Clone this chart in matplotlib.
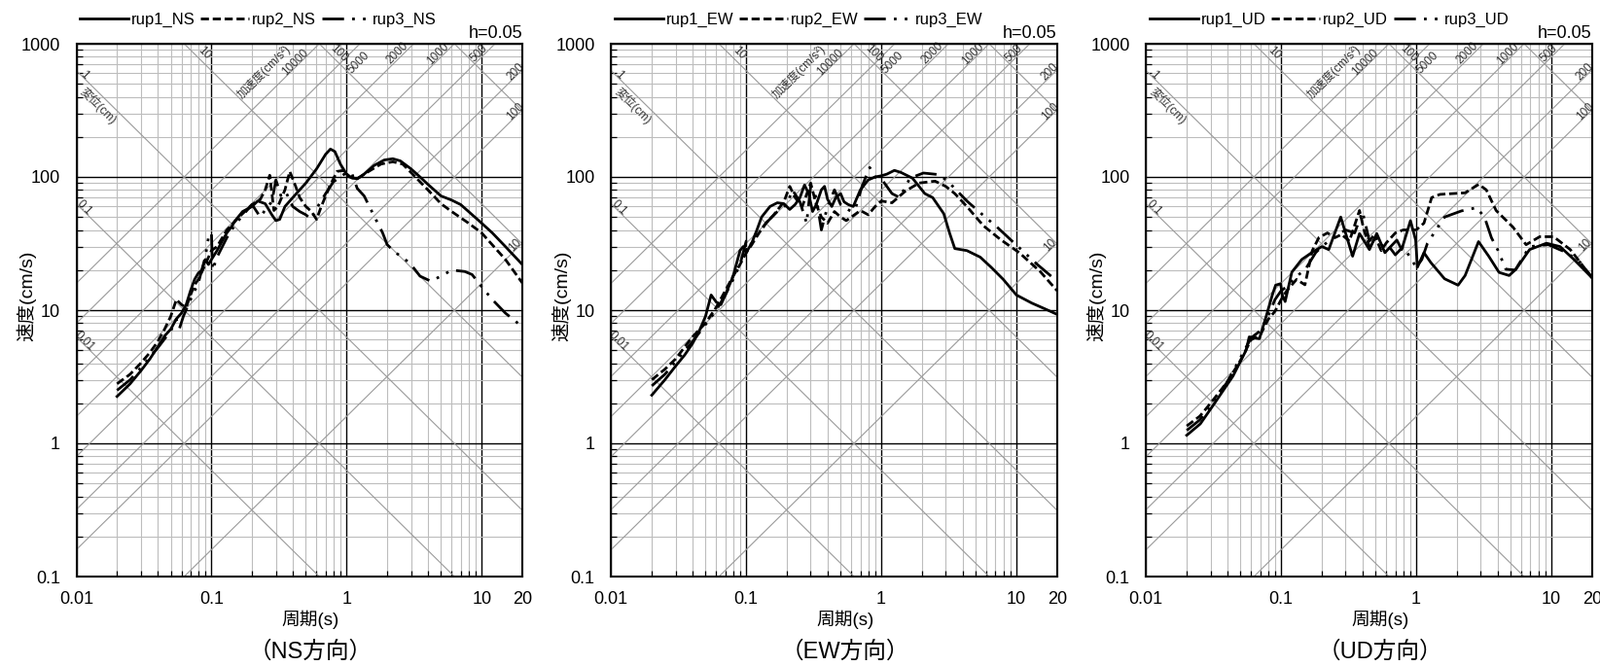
"""Tripartite response spectra (h=0.05) for rup1..rup3, NS / EW / UD."""

import numpy as np
import matplotlib

matplotlib.use("Agg")
import matplotlib.pyplot as plt
from matplotlib.ticker import LogLocator, NullFormatter

plt.rcParams["font.family"] = ["Liberation Sans", "Noto Sans CJK JP", "DejaVu Sans"]

# ---- data: period (s) and pseudo velocity (cm/s) ----
ns_rup1_t = [0.02, 0.025, 0.03, 0.035, 0.04, 0.045, 0.05, 0.055, 0.06, 0.065, 0.07, 0.075,
             0.08, 0.085, 0.09, 0.095, 0.1, 0.11, 0.12, 0.13, 0.14, 0.15, 0.17, 0.2, 0.22,
             0.25, 0.28, 0.3, 0.32, 0.35, 0.4, 0.45, 0.5, 0.6, 0.7, 0.76, 0.82, 0.9, 1.0,
             1.1, 1.2, 1.35, 1.6, 1.9, 2.2, 2.5, 3.0, 3.5, 4.0, 5.0, 6.0, 7.0, 8.0, 10, 12,
             15, 20]
ns_rup1_v = [2.25, 2.8, 3.5, 4.3, 5.3, 6.4, 7.2, 8.6, 9.5, 11, 14, 17,
             19, 20, 24, 22, 24, 28, 33, 38, 42, 47, 55, 60, 66,
             63, 52, 47, 48, 60, 70, 80, 90, 115, 148, 162, 155, 125, 105,
             98, 97, 105, 122, 134, 137, 132, 115, 100, 88, 72, 67, 62, 55, 45, 38,
             30, 22]

ns_rup2_t = [0.02, 0.025, 0.03, 0.035, 0.04, 0.045, 0.05, 0.055, 0.06, 0.065, 0.07, 0.075,
             0.08, 0.09, 0.1, 0.11, 0.13, 0.16, 0.2, 0.23, 0.25, 0.27, 0.29, 0.31, 0.35,
             0.38, 0.42, 0.45, 0.5, 0.55, 0.6, 0.65, 0.75, 0.85, 0.95, 1.05, 1.2, 1.5,
             1.8, 2.2, 2.6, 3.0, 4.0, 5.0, 6.0, 8.0, 10, 15, 20]
ns_rup2_v = [2.8, 3.3, 4.0, 4.8, 5.8, 7.2, 9.0, 12, 11, 10.5, 13, 15.5,
             17, 22, 28, 30, 40, 50, 62, 68, 80, 103, 56, 60, 80,
             110, 85, 70, 60, 55, 48, 60, 85, 110, 112, 100, 97, 112,
             125, 130, 125, 108, 80, 63, 55, 45, 38, 24, 16]

ns_rup3_t = [0.02, 0.025, 0.03, 0.04, 0.05, 0.055, 0.058, 0.062, 0.07, 0.08, 0.09, 0.095,
             0.1, 0.102, 0.11, 0.13, 0.15, 0.18, 0.2, 0.23, 0.26, 0.28, 0.3, 0.33, 0.36,
             0.4, 0.45, 0.5, 0.55, 0.6, 0.7, 0.8, 0.9, 1.0, 1.1, 1.2, 1.35, 1.5, 1.7,
             1.85, 2.0, 2.3, 2.6, 3.0, 3.5, 4.2, 5, 6, 7.5, 8.5, 10, 12, 15, 20]
ns_rup3_v = [2.5, 3.0, 3.7, 5.2, 7.0, 8.5, 7.3, 9, 12, 16, 25, 35,
             38, 20, 25, 35, 44, 55, 62, 50, 60, 65, 95, 70, 75,
             60, 55, 52, 48, 58, 75, 92, 100, 108, 105, 82, 72, 58, 45,
             38, 31, 27, 25, 22, 18, 16.5, 18, 20, 19.5, 18.5, 15, 12, 9.5, 7.5]

ew_rup1_t = [0.02, 0.025, 0.03, 0.035, 0.04, 0.045, 0.05, 0.055, 0.06, 0.065, 0.07, 0.08,
             0.09, 0.095, 0.1, 0.11, 0.12, 0.13, 0.15, 0.17, 0.19, 0.21, 0.23, 0.25, 0.27,
             0.29, 0.31, 0.33, 0.36, 0.38, 0.4, 0.43, 0.46, 0.5, 0.53, 0.57, 0.62, 0.7,
             0.8, 0.9, 1.0, 1.1, 1.25, 1.4, 1.7, 2.1, 2.4, 2.9, 3.2, 3.5, 4.3, 5.4, 6.5,
             8, 10, 13, 16, 20]
ew_rup1_v = [2.3, 3.0, 3.8, 4.6, 5.6, 7.0, 9, 13, 11.5, 11, 13, 18,
             28, 30, 27, 32, 40, 50, 60, 64, 63, 57, 62, 70, 87,
             75, 55, 62, 80, 85, 68, 60, 70, 75, 65, 62, 60, 80,
             95, 100, 102, 105, 112, 108, 98, 75, 70, 53, 38, 29, 28, 25, 21,
             17, 13, 11.3, 10.3, 9.3]

ew_rup2_t = [0.02, 0.025, 0.03, 0.04, 0.05, 0.06, 0.07, 0.08, 0.09, 0.1, 0.11, 0.12,
             0.14, 0.16, 0.19, 0.21, 0.23, 0.26, 0.3, 0.33, 0.36, 0.4, 0.45, 0.5, 0.55,
             0.6, 0.7, 0.8, 0.9, 1.0, 1.2, 1.5, 1.9, 2.5, 3.0, 3.5, 4.3, 5.7, 7.6, 10.5,
             15, 20]
ew_rup2_v = [3.0, 3.6, 4.3, 6.3, 8, 10.5, 14, 18, 22, 27, 31, 36,
             45, 52, 65, 85, 70, 60, 90, 62, 50, 45, 55, 50, 47,
             50, 56, 52, 60, 66, 64, 78, 90, 93, 85, 75, 60, 43, 34, 27,
             19.5, 14]

ew_rup3_t = [0.02, 0.025, 0.03, 0.04, 0.05, 0.06, 0.07, 0.08, 0.09, 0.1, 0.105, 0.12,
             0.14, 0.17, 0.2, 0.22, 0.25, 0.28, 0.3, 0.33, 0.36, 0.4, 0.45, 0.5, 0.55,
             0.6, 0.65, 0.72, 0.82, 0.9, 1.03, 1.2, 1.37, 1.63, 2.05, 2.7, 3.2, 4.3, 5.5,
             7.2, 9.6, 14.3, 20]
ew_rup3_v = [2.7, 3.3, 4.1, 5.8, 7.8, 10, 13, 17, 22, 33, 30, 36,
             45, 55, 62, 80, 65, 45, 85, 70, 40, 60, 80, 62, 58,
             55, 60, 85, 118, 100, 93, 75, 70, 98, 107, 104, 90, 66, 53,
             42, 32, 22, 16.5]

ud_rup1_t = [0.02, 0.0252, 0.0316, 0.044, 0.055, 0.058, 0.069, 0.077, 0.086, 0.091, 0.099,
             0.102, 0.107, 0.12, 0.142, 0.168, 0.2, 0.225, 0.276, 0.338, 0.38, 0.45, 0.51,
             0.586, 0.718, 0.78, 0.906, 0.99, 1.02, 1.14, 1.28, 1.62, 2.04, 2.3, 2.89,
             3.44, 4.1, 4.87, 5.47, 6.9, 9.2, 11.6, 14.7, 20]
ud_rup1_v = [1.15, 1.4, 1.95, 3.2, 5.0, 6.3, 6.1, 8.8, 13, 15.4, 15.8,
             13, 11.6, 19.3, 24, 27, 30, 28.5, 50, 25.4, 37.6, 28.5, 37.6,
             27, 33.6, 28.5, 47, 33.6, 21, 27, 22.8, 17.2, 15.4, 18.2, 32.7,
             25.4, 19.2, 18.2, 20.3, 28.5, 31.8, 30, 24, 17.5]

ud_rup2_t = [0.02, 0.025, 0.03, 0.04, 0.05, 0.06, 0.07, 0.08, 0.09, 0.1, 0.11, 0.13,
             0.15, 0.17, 0.19, 0.22, 0.25, 0.28, 0.32, 0.38, 0.41, 0.45, 0.5, 0.55, 0.6,
             0.7, 0.8, 0.9, 1.0, 1.14, 1.3, 1.5, 2.3, 2.9, 3.3, 3.9, 5.2, 6.5, 8.2, 10.4,
             13.8, 20]
ud_rup2_v = [1.35, 1.6, 2.0, 2.9, 4.2, 6.0, 6.5, 8.5, 9.8, 12, 14, 17,
             15.5, 28, 35, 38, 35, 37, 33, 56, 40, 30, 35, 28, 32,
             38, 40, 40, 40, 45, 70, 74, 76, 88, 80, 56, 42, 31, 35.6, 35.6,
             28.5, 17.5]

ud_rup3_t = [0.02, 0.025, 0.03, 0.04, 0.05, 0.06, 0.07, 0.08, 0.09, 0.1, 0.11, 0.13,
             0.15, 0.18, 0.2, 0.25, 0.3, 0.35, 0.4, 0.45, 0.5, 0.55, 0.6, 0.7, 0.8, 0.9,
             1.0, 1.1, 1.21, 1.4, 1.62, 2.16, 2.8, 3.2, 3.6, 4.0, 4.6, 5.4, 6.9, 9.5, 13,
             16.4, 20]
ud_rup3_v = [1.25, 1.5, 1.9, 2.9, 4.4, 6.2, 7, 9, 12, 14, 15, 18,
             20, 27, 30, 36, 40, 38, 55, 33, 38, 30, 32, 26, 30, 25,
             21, 24, 31.8, 40, 50, 55.6, 58.8, 50, 35, 28.5, 20.3, 20, 30, 31, 27,
             22.8, 17.6]

components = ["NS", "EW", "UD"]
series_t = {"NS": [ns_rup1_t, ns_rup2_t, ns_rup3_t],
            "EW": [ew_rup1_t, ew_rup2_t, ew_rup3_t],
            "UD": [ud_rup1_t, ud_rup2_t, ud_rup3_t]}
series_v = {"NS": [ns_rup1_v, ns_rup2_v, ns_rup3_v],
            "EW": [ew_rup1_v, ew_rup2_v, ew_rup3_v],
            "UD": [ud_rup1_v, ud_rup2_v, ud_rup3_v]}
case_names = ["rup1", "rup2", "rup3"]

# tripartite guide levels
acc_levels = [10, 100, 200, 500, 1000, 2000, 5000, 10000]   # cm/s^2
disp_levels = [0.01, 0.1, 1, 10, 100, 1000]                 # cm

x_ticks = [0.01, 0.1, 1, 10, 20]
x_ticklabels = ["0.01", "0.1", "1", "10", "20"]
y_ticks = [0.1, 1, 10, 100, 1000]
y_ticklabels = ["0.1", "1", "10", "100", "1000"]

# ---- styling ----
line_styles = ["-", (0, (3, 1.4)), (0, (8, 3, 1, 3, 1, 3))]
W, H = 1645, 685
ax_lefts = [78.5, 628.3, 1178.3]
ax_w, ax_bottom, ax_h = 458.5, 593, 548
TWO_PI = 2 * np.pi
GUIDE = "#9a9a9a"
LBL = "#333333"


def draw_guides(ax):
    t = np.logspace(-2, np.log10(20), 60)
    for a in acc_levels:
        ax.plot(t, a * t / TWO_PI, color=GUIDE, lw=0.8, zorder=1)
    for d in disp_levels:
        ax.plot(t, TWO_PI * d / t, color=GUIDE, lw=0.8, zorder=1)

    kw = dict(fontsize=8.5, color=LBL, ha="center", va="center", zorder=2)
    # acceleration labels along the top edge / right edge
    top_shift = {10000: 0.67, 5000: 0.97}
    for a in acc_levels:
        t_top = TWO_PI * 1000 / a
        if t_top < 20:
            k = top_shift.get(a, 0.76)
            v = 720 if a in top_shift else 845
            ax.text(t_top * k, v, str(a), rotation=45, **kw)
        else:
            v_edge = a * 20 / TWO_PI
            ax.text(17.8, v_edge * 0.97, str(a), rotation=45, **kw)
    ax.text(0.245, 610, "加速度(cm/s²)", rotation=45, **kw)
    # displacement labels: left edge for small, top edge for large
    for d in disp_levels:
        v_left = TWO_PI * d / 0.01
        if v_left < 1000:
            ax.text(0.0114, v_left * 0.93, f"{d:g}", rotation=-45, **kw)
        elif d <= 100:
            ax.text(TWO_PI * d / 1000 * 1.4, 845, f"{d:g}", rotation=-45, **kw)
    ax.text(0.0145, 340, "変位(cm)", rotation=-45, **kw)


fig = plt.figure(figsize=(W / 100, H / 100), dpi=100)

for comp, left in zip(components, ax_lefts):
    ax = fig.add_axes([left / W, (H - ax_bottom) / H, ax_w / W, ax_h / H])
    ax.set_xscale("log")
    ax.set_yscale("log")
    ax.set_xlim(0.01, 20)
    ax.set_ylim(0.1, 1000)

    ax.set_xticks(x_ticks)
    ax.set_xticklabels(x_ticklabels)
    ax.set_yticks(y_ticks)
    ax.set_yticklabels(y_ticklabels)
    ax.xaxis.set_minor_locator(LogLocator(base=10, subs=np.arange(2, 10), numticks=30))
    ax.yaxis.set_minor_locator(LogLocator(base=10, subs=np.arange(2, 10), numticks=30))
    ax.xaxis.set_minor_formatter(NullFormatter())
    ax.yaxis.set_minor_formatter(NullFormatter())

    ax.set_axisbelow(True)
    ax.grid(which="minor", color="#bdbdbd", lw=0.8)
    ax.grid(which="major", color="black", lw=1.0)
    ax.tick_params(which="major", length=0, labelsize=13)
    ax.tick_params(axis="y", which="major", pad=12)
    ax.tick_params(axis="x", which="major", pad=11)
    ax.tick_params(which="minor", direction="in", length=4, width=0.9, color="black")
    for s in ax.spines.values():
        s.set_linewidth(1.5)

    draw_guides(ax)

    for name, ts, vs, ls in zip(case_names, series_t[comp], series_v[comp], line_styles):
        ax.plot(ts, vs, color="black", lw=2.0, linestyle=ls, zorder=3,
                solid_joinstyle="round", dash_joinstyle="round",
                label=f"{name}_{comp}")

    ax.legend(loc="center left", bbox_to_anchor=(-0.006, 1.045), ncol=3, frameon=False,
              fontsize=12, handlelength=3.0, handletextpad=0.15, columnspacing=0.35,
              borderaxespad=0)
    ax.text(1.0, 1.003, "h=0.05", transform=ax.transAxes, ha="right", va="bottom",
            fontsize=13)
    ax.text(-0.112, 0.527, "速度(cm/s)", transform=ax.transAxes, rotation=90,
            ha="center", va="center", fontsize=14)
    ax.text(0.525, -0.08, "周期(s)", transform=ax.transAxes, ha="center", va="center",
            fontsize=13.5)
    ax.text(0.525, -0.141, f"（{comp}方向）", transform=ax.transAxes, ha="center",
            va="center", fontsize=17)

fig.savefig("out.png", dpi=100)
